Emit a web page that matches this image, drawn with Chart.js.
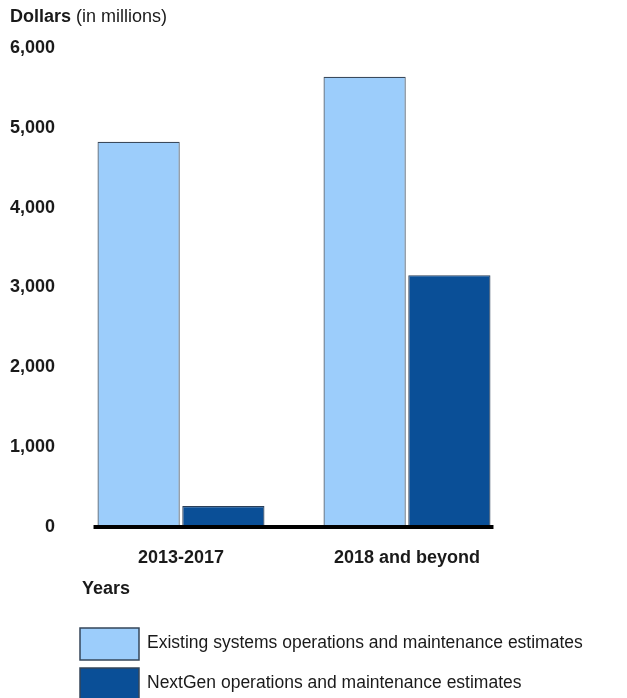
<!DOCTYPE html>
<html>
<head>
<meta charset="utf-8">
<script src="https://cdn.jsdelivr.net/npm/chart.js@4"></script>
<style>
  html, body { margin: 0; padding: 0; background: #fff; }
  #wrap { position: relative; width: 627px; height: 698px; }
</style>
</head>
<body>
<div id="wrap"><canvas id="barChart"></canvas></div>
<script>
var periods = ['2013-2017', '2018 and beyond'];
var existingCosts = [4825, 5640];
var nextgenCosts = [262, 3155];
var yTicks = [0, 1000, 2000, 3000, 4000, 5000, 6000];

var FONT = '"Liberation Sans", Arial, Helvetica, sans-serif';

// baseline, axis titles and legend drawn on top of the chart
var extras = {
    id: 'extras',
    afterDraw: function(chart) {
        var c = chart.ctx;
        var y = chart.scales.y.getPixelForValue(0);
        var first = chart.getDatasetMeta(0).data[0];
        var last = chart.getDatasetMeta(1).data[1];
        c.save();
        c.strokeStyle = '#000';
        c.lineWidth = 4;
        c.beginPath();
        c.moveTo(first.x - first.width / 2 - 4, y);
        c.lineTo(last.x + last.width / 2 + 3, y);
        c.stroke();

        c.fillStyle = '#1a1a1a';
        c.textBaseline = 'middle';
        c.font = 'bold 18px ' + FONT;
        c.fillText('Dollars', 10, 17);
        var w = c.measureText('Dollars ').width;
        c.font = '18px ' + FONT;
        c.fillText('(in millions)', 10 + w, 17);

        c.font = 'bold 18px ' + FONT;
        c.fillText('Years', 82, 589);

        // legend
        c.font = '17.5px ' + FONT;
        chart.data.datasets.forEach(function(ds, i) {
            var top = 628 + i * 40;
            c.fillStyle = ds.backgroundColor;
            c.fillRect(80, top, 59, 32);
            c.strokeStyle = '#34465a';
            c.lineWidth = 1.5;
            c.strokeRect(80, top, 59, 32);
            c.fillStyle = '#1a1a1a';
            c.fillText(ds.label, 147, top + 15);
        });
        c.restore();
    }
};

var ctx = document.getElementById('barChart').getContext('2d');
var myChart = new Chart(ctx, {
    type: 'bar',
    data: {
        labels: periods,
        datasets: [{
            label: 'Existing systems operations and maintenance estimates',
            data: existingCosts,
            backgroundColor: '#9ccdfb',
            borderColor: '#3b4a5c',
            borderWidth: 1.2
        }, {
            label: 'NextGen operations and maintenance estimates',
            data: nextgenCosts,
            backgroundColor: '#0a4f97',
            borderColor: '#2b3f58',
            borderWidth: 1.2
        }]
    },
    plugins: [extras],
    options: {
        maintainAspectRatio: false,
        responsive: true,
        animation: false,
        categoryPercentage: 0.75,
        barPercentage: 0.97,
        layout: {
            padding: { top: 48, left: 0, right: 107, bottom: 121 }
        },
        plugins: {
            legend: { display: false },
            tooltip: { enabled: false }
        },
        scales: {
            x: {
                grid: { display: false, drawTicks: false },
                border: { display: false },
                afterFit: function(scale) { scale.height = 50; },
                ticks: {
                    color: '#1a1a1a',
                    padding: 20,
                    font: { family: FONT, size: 18, weight: 'bold' }
                }
            },
            y: {
                min: 0,
                max: 6000,
                grid: { display: false, drawTicks: false },
                border: { display: false },
                afterFit: function(scale) { scale.width = 68; },
                afterBuildTicks: function(scale) {
                    scale.ticks = yTicks.map(function(v) { return { value: v }; });
                },
                ticks: {
                    color: '#1a1a1a',
                    padding: 13,
                    font: { family: FONT, size: 18, weight: 'bold' },
                    callback: function(v) { return v.toLocaleString('en-US'); }
                }
            }
        }
    }
});
</script>
</body>
</html>
